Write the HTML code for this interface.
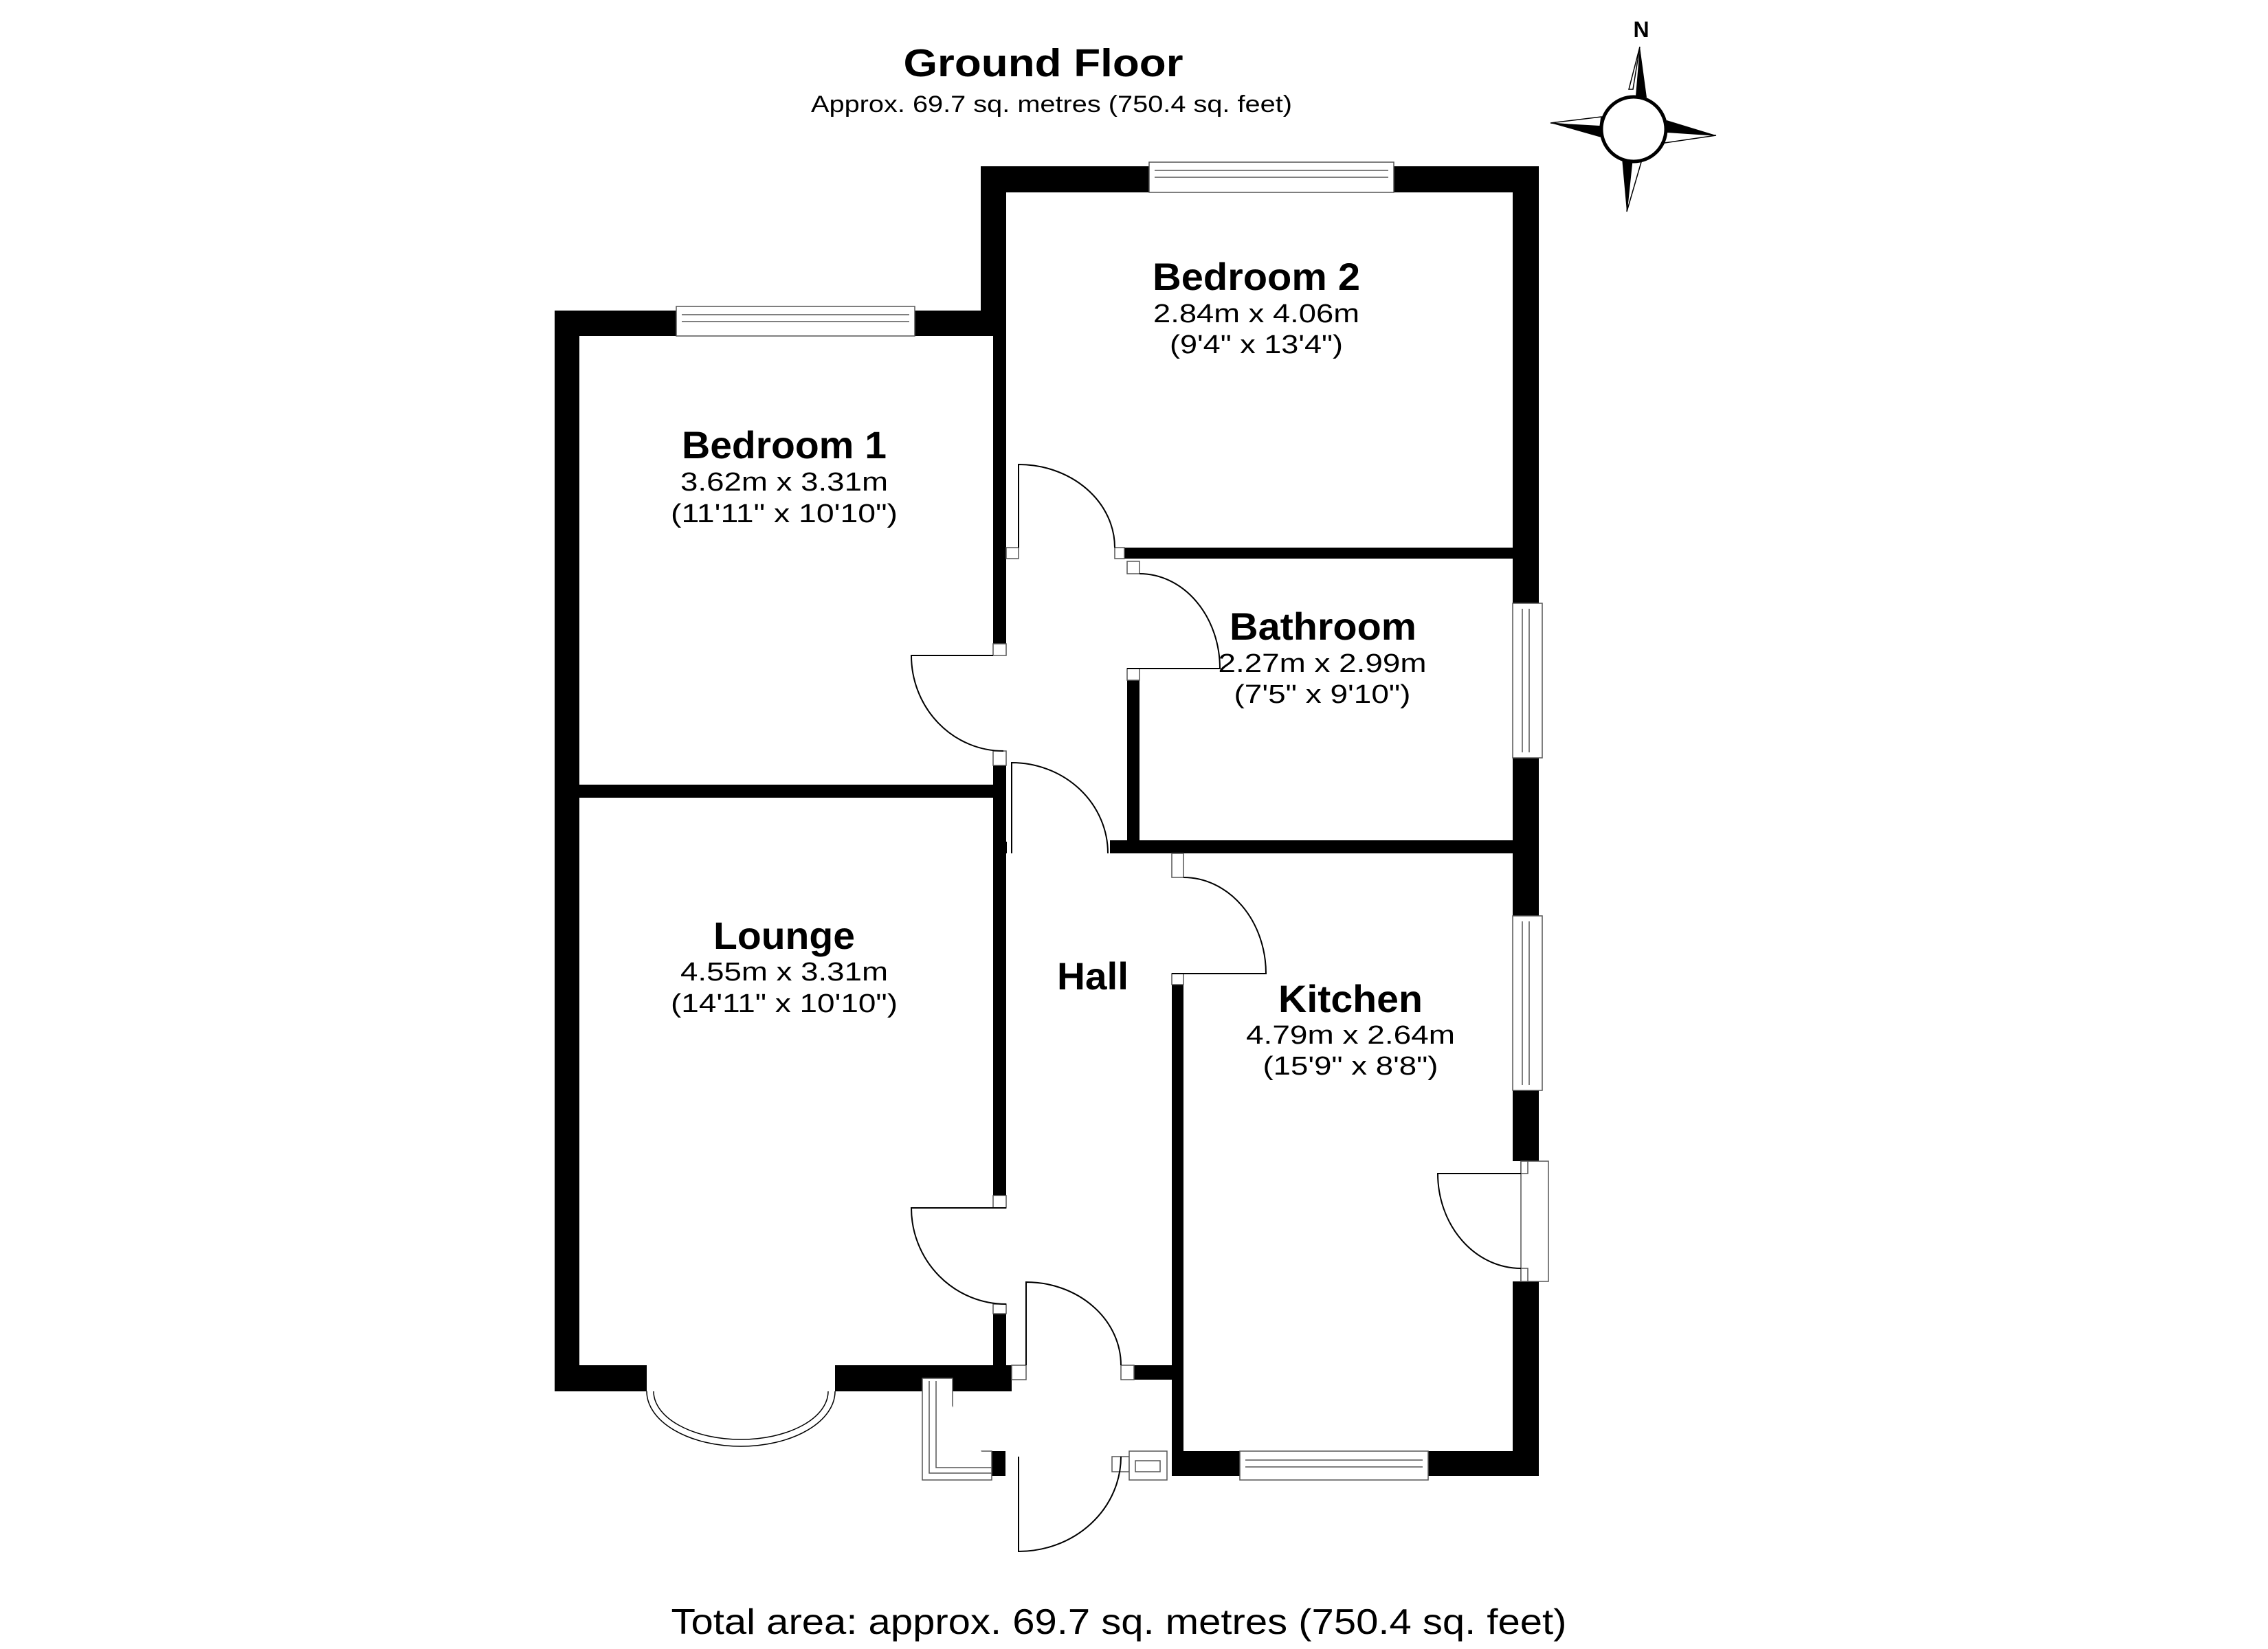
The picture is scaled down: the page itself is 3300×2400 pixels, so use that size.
<!DOCTYPE html>
<html><head><meta charset="utf-8"><style>html,body{margin:0;padding:0;background:#fff}svg{display:block}</style></head>
<body>
<svg width="3300" height="2400" viewBox="0 0 3300 2400" xmlns="http://www.w3.org/2000/svg" font-family="Liberation Sans, Arial, sans-serif">
<rect width="3300" height="2400" fill="#fff"/>
<g fill="#000">
<rect x="807" y="452" width="36" height="1573"/>
<rect x="807" y="452" width="177" height="37"/>
<rect x="1331" y="452" width="133" height="37"/>
<rect x="1427" y="242" width="37" height="247"/>
<rect x="1427" y="242" width="245" height="38"/>
<rect x="2028" y="242" width="211" height="38"/>
<rect x="2201" y="242" width="38" height="636"/>
<rect x="2201" y="1103" width="38" height="230"/>
<rect x="2201" y="1587" width="38" height="103"/>
<rect x="2201" y="1865" width="38" height="283"/>
<rect x="1705" y="2112" width="99" height="36"/>
<rect x="2078" y="2112" width="161" height="36"/>
<rect x="1705" y="1433" width="17" height="715"/>
<rect x="1615" y="1223" width="624" height="19"/>
<rect x="1636" y="797" width="603" height="16"/>
<rect x="1640" y="990" width="18" height="252"/>
<rect x="1445" y="489" width="19" height="448"/>
<rect x="1445" y="1114" width="19" height="47"/>
<rect x="843" y="1142" width="621" height="19"/>
<rect x="1445" y="1161" width="19" height="579"/>
<rect x="1445" y="1912" width="19" height="113"/>
<rect x="807" y="1987" width="134" height="38"/>
<rect x="1215" y="1987" width="257" height="38"/>
<rect x="1650" y="1987" width="55" height="21"/>
<rect x="1443" y="2112" width="20" height="36"/>
</g>
<g fill="#fff" stroke="#555" stroke-width="1.5">
<rect x="984" y="446" width="347" height="43"/>
<line x1="992" y1="458" x2="1323" y2="458"/><line x1="992" y1="468" x2="1323" y2="468"/>
<rect x="1672" y="236" width="356" height="44"/>
<line x1="1680" y1="248" x2="2020" y2="248"/><line x1="1680" y1="258" x2="2020" y2="258"/>
<rect x="2201" y="878" width="43" height="225"/>
<line x1="2215" y1="886" x2="2215" y2="1095"/><line x1="2225" y1="886" x2="2225" y2="1095"/>
<rect x="2201" y="1333" width="43" height="254"/>
<line x1="2215" y1="1341" x2="2215" y2="1579"/><line x1="2225" y1="1341" x2="2225" y2="1579"/>
<rect x="2213" y="1690" width="40" height="175"/>
<rect x="1804" y="2112" width="274" height="42"/>
<line x1="1812" y1="2125" x2="2070" y2="2125"/><line x1="1812" y1="2135" x2="2070" y2="2135"/>
<rect x="1622" y="797" width="14" height="16"/>
<rect x="1464" y="797" width="18" height="16"/>
<rect x="1640" y="817" width="18" height="18"/>
<rect x="1640" y="973" width="18" height="17"/>
<rect x="1445" y="937" width="19" height="17"/>
<rect x="1445" y="1093" width="19" height="21"/>
<rect x="1705" y="1242" width="17" height="35"/>
<rect x="1705" y="1417" width="17" height="16"/>
<rect x="1445" y="1740" width="19" height="18"/>
<rect x="1445" y="1898" width="19" height="14"/>
<rect x="1472" y="1987" width="21" height="21"/>
<rect x="1631" y="1987" width="19" height="21"/>
<rect x="2213" y="1690" width="10" height="18"/>
<rect x="2213" y="1846" width="10" height="19"/>
<path d="M1342 2006 H1386 V2112 H1443 V2154 H1342 Z"/>
<path d="M1352 2010 V2144 H1443 M1362 2010 V2136 H1443"/>
<rect x="1618" y="2120" width="25" height="22"/>
<rect x="1643" y="2112" width="55" height="42"/>
<rect x="1652" y="2126" width="36" height="16"/>
</g>
<g fill="none" stroke="#000" stroke-width="2">
<path d="M1482 797 V676 A140 121 0 0 1 1622 797"/>
<path d="M1640 973 H1775 A117 138 0 0 0 1658 835"/>
<path d="M1445 954 H1326 A134 139 0 0 0 1460 1093"/>
<path d="M1472 1242 V1110 A140 132 0 0 1 1612 1242"/>
<path d="M1464 1242 V1225"/>
<path d="M1705 1417 H1842 A120 140 0 0 0 1722 1277"/>
<path d="M1464 1758 H1326 A138 140 0 0 0 1464 1898"/>
<path d="M1493 1987 V1866 A138 121 0 0 1 1631 1987"/>
<path d="M2213 1708 H2092 A121 138 0 0 0 2213 1846"/>
<path d="M1482 2120 V2258 A149 138 0 0 0 1631 2120"/>
<path d="M941 2025 A137 80 0 0 0 1215 2025" stroke-width="1.5"/>
<path d="M951 2025 A127 70 0 0 0 1205 2025" stroke-width="1.5"/>
</g>
<g>
<polygon points="2386,68 2370,130 2376,130" fill="#fff" stroke="#000" stroke-width="1.5"/>
<polygon points="2386,68 2380,140 2396,142" fill="#000"/>
<polygon points="2367,308 2360,230 2375,232" fill="#000"/>
<polygon points="2367,308 2375,232 2388,236" fill="#fff" stroke="#000" stroke-width="1.5"/>
<polygon points="2256,179 2330,170 2328,185" fill="#fff" stroke="#000" stroke-width="1.5"/>
<polygon points="2256,179 2328,183 2330,200" fill="#000"/>
<polygon points="2497,197 2425,175 2422,192" fill="#000"/>
<polygon points="2497,197 2422,192 2422,208" fill="#fff" stroke="#000" stroke-width="1.5"/>
<circle cx="2377" cy="188" r="47" fill="#fff" stroke="#000" stroke-width="5"/>
<text x="2388" y="54" font-size="32" font-weight="bold" text-anchor="middle">N</text>
</g>
<g text-anchor="middle" fill="#000">
<text x="1518" y="111" font-size="57" font-weight="bold" textLength="407" lengthAdjust="spacingAndGlyphs">Ground Floor</text>
<text x="1530" y="163" font-size="34" textLength="700" lengthAdjust="spacingAndGlyphs">Approx. 69.7 sq. metres (750.4 sq. feet)</text>

<text x="1828" y="422" font-size="56" font-weight="bold" textLength="302" lengthAdjust="spacingAndGlyphs">Bedroom 2</text>
<text x="1828" y="469" font-size="38" textLength="300" lengthAdjust="spacingAndGlyphs">2.84m x 4.06m</text>
<text x="1828" y="514" font-size="38" textLength="252" lengthAdjust="spacingAndGlyphs">(9'4" x 13'4")</text>

<text x="1141" y="667" font-size="56" font-weight="bold" textLength="298" lengthAdjust="spacingAndGlyphs">Bedroom 1</text>
<text x="1141" y="714" font-size="38" textLength="302" lengthAdjust="spacingAndGlyphs">3.62m x 3.31m</text>
<text x="1141" y="760" font-size="38" textLength="330" lengthAdjust="spacingAndGlyphs">(11'11" x 10'10")</text>

<text x="1925" y="931" font-size="56" font-weight="bold" textLength="272" lengthAdjust="spacingAndGlyphs">Bathroom</text>
<text x="1924" y="978" font-size="38" textLength="303" lengthAdjust="spacingAndGlyphs">2.27m x 2.99m</text>
<text x="1924" y="1023" font-size="38" textLength="257" lengthAdjust="spacingAndGlyphs">(7'5" x 9'10")</text>

<text x="1141" y="1381" font-size="56" font-weight="bold" textLength="206" lengthAdjust="spacingAndGlyphs">Lounge</text>
<text x="1141" y="1427" font-size="38" textLength="302" lengthAdjust="spacingAndGlyphs">4.55m x 3.31m</text>
<text x="1141" y="1473" font-size="38" textLength="330" lengthAdjust="spacingAndGlyphs">(14'11" x 10'10")</text>

<text x="1590" y="1440" font-size="56" font-weight="bold" textLength="104" lengthAdjust="spacingAndGlyphs">Hall</text>

<text x="1965" y="1473" font-size="56" font-weight="bold" textLength="210" lengthAdjust="spacingAndGlyphs">Kitchen</text>
<text x="1965" y="1519" font-size="38" textLength="304" lengthAdjust="spacingAndGlyphs">4.79m x 2.64m</text>
<text x="1965" y="1564" font-size="38" textLength="255" lengthAdjust="spacingAndGlyphs">(15'9" x 8'8")</text>

<text x="1628" y="2378" font-size="52" textLength="1303" lengthAdjust="spacingAndGlyphs">Total area: approx. 69.7 sq. metres (750.4 sq. feet)</text>
</g>
</svg>
</body></html>
